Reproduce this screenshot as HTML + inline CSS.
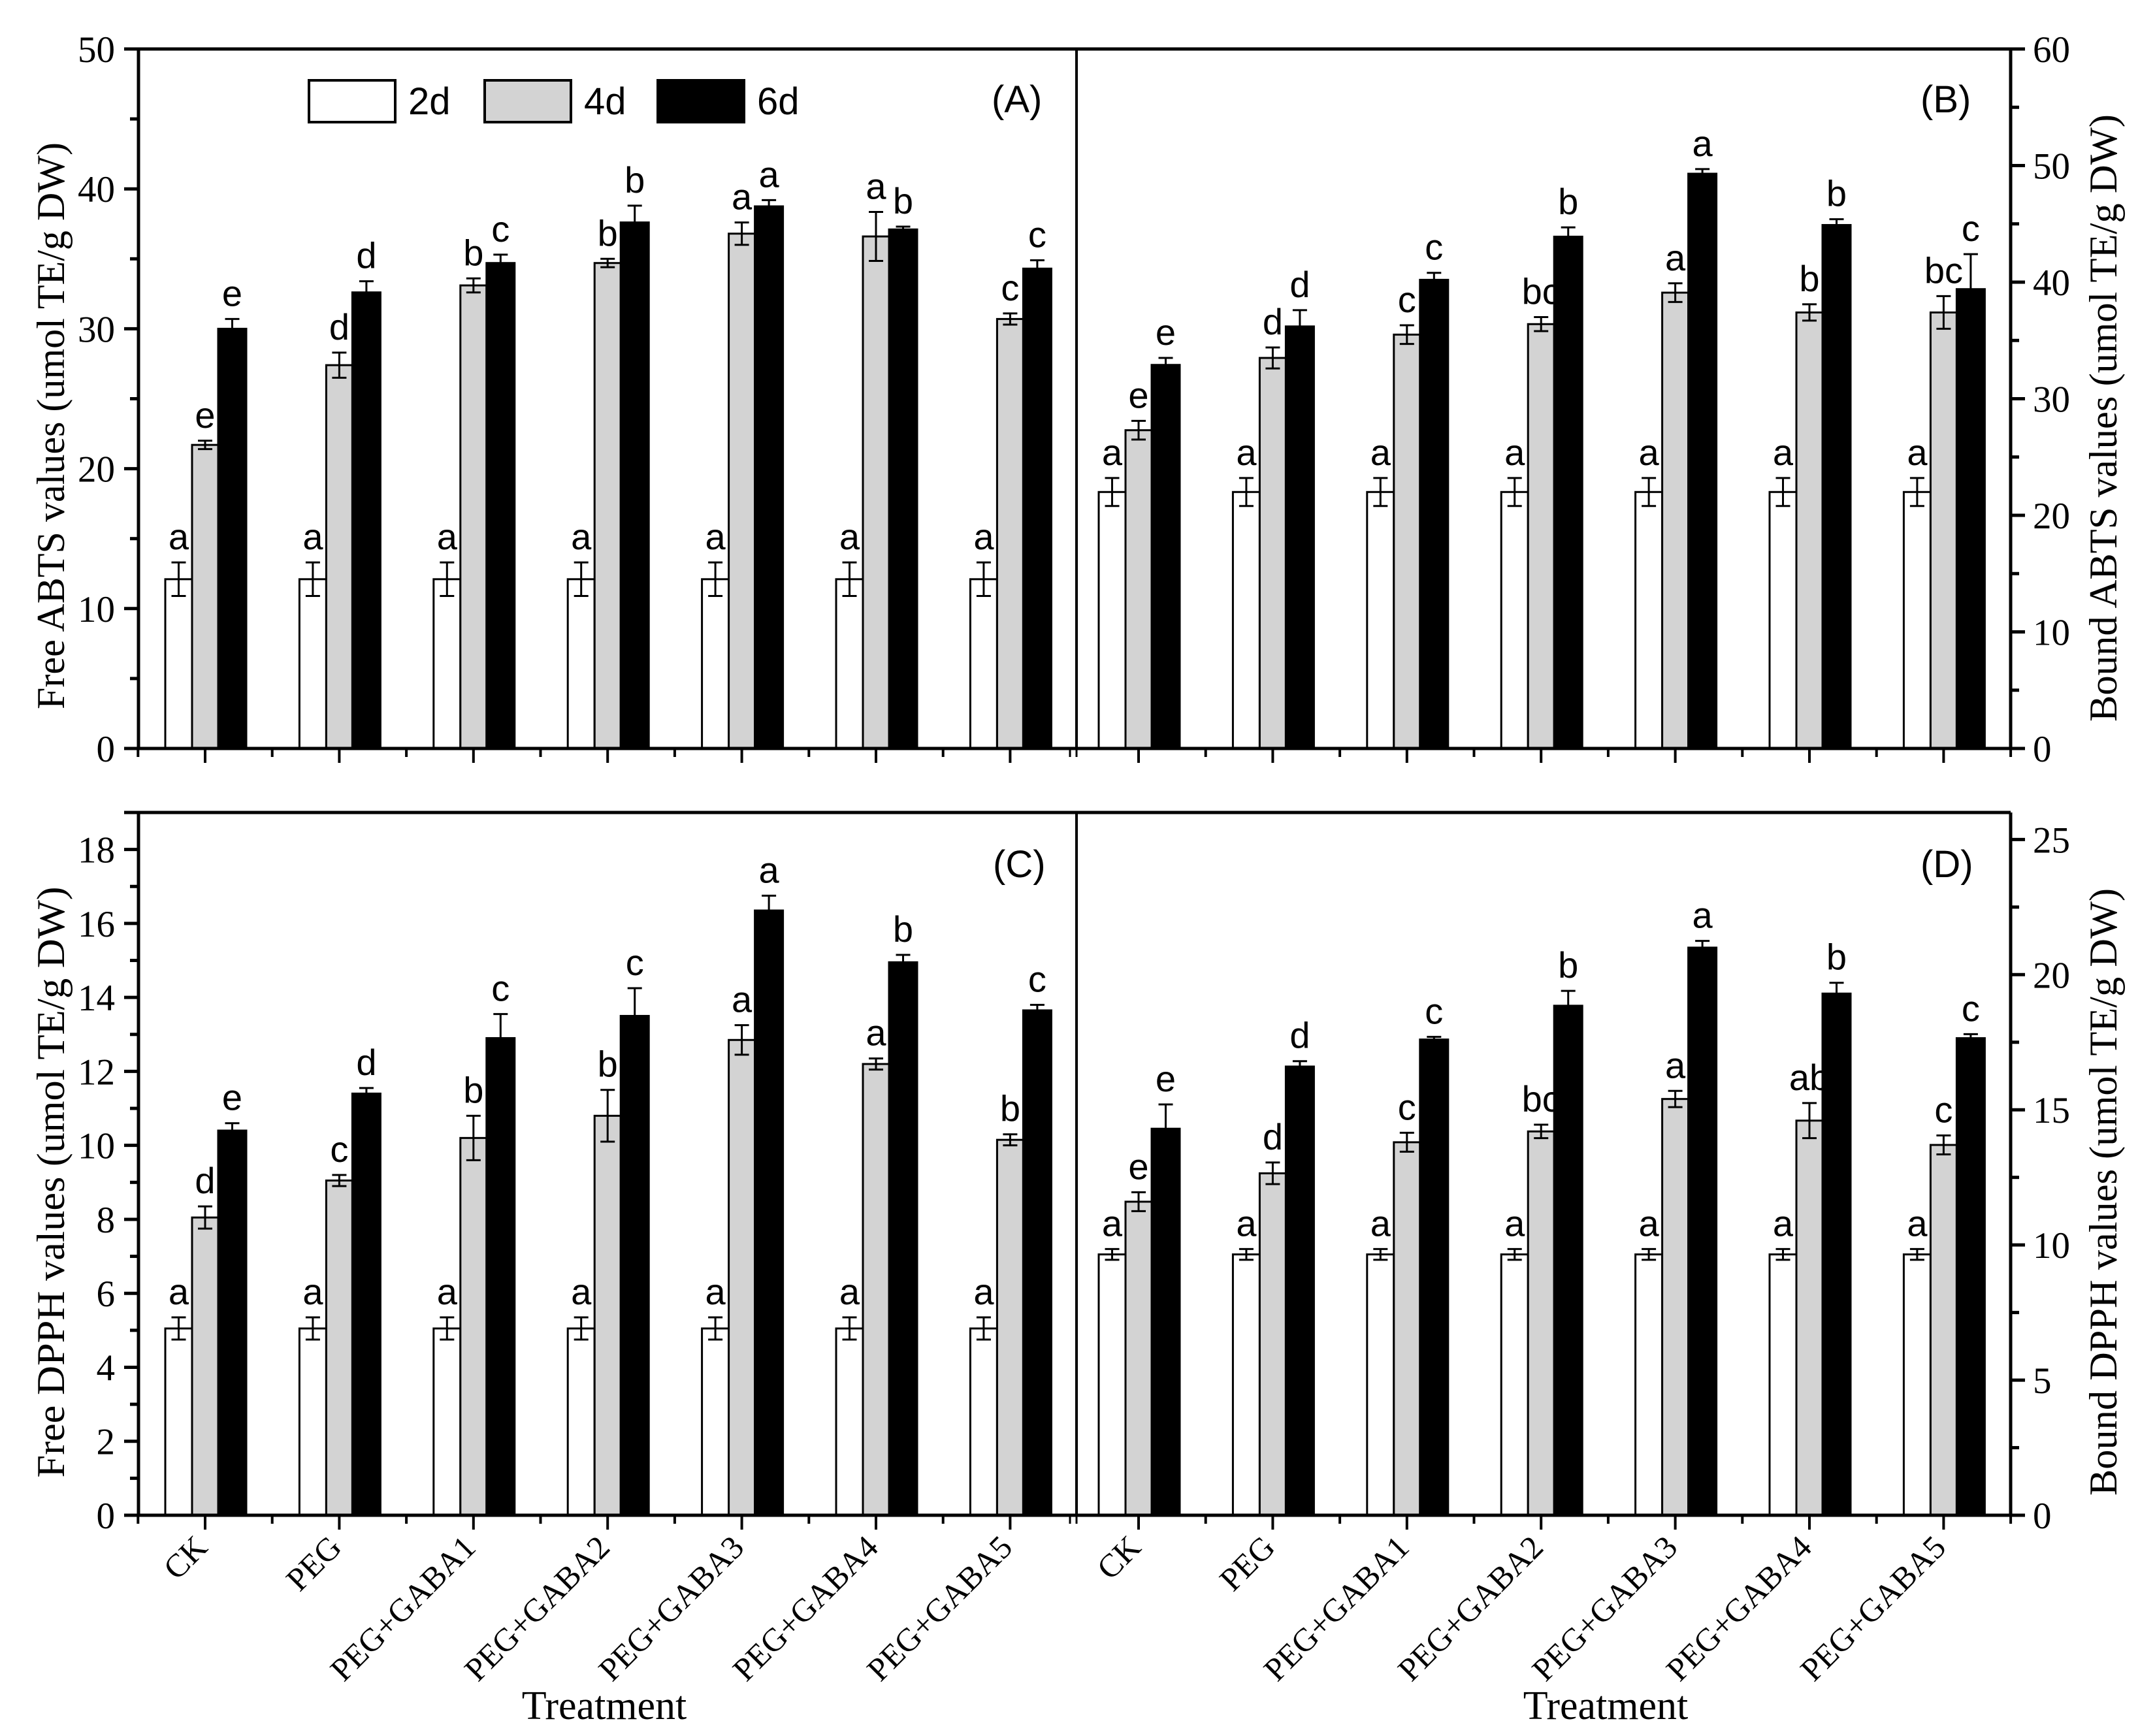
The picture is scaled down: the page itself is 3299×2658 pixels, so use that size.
<!DOCTYPE html>
<html><head><meta charset="utf-8"><style>
html,body{margin:0;padding:0;background:#fff}
svg{display:block}
.serif{font-family:"Liberation Serif",serif}
.sans{font-family:"Liberation Sans",sans-serif}
</style></head><body>
<svg id="chart" width="3299" height="2658" viewBox="0 0 3299 2658" xmlns="http://www.w3.org/2000/svg"></svg>
<script>
const categories = ["CK","PEG","PEG+GABA1","PEG+GABA2","PEG+GABA3","PEG+GABA4","PEG+GABA5"];
const seriesNames = ["2d","4d","6d"];
// Panel A: Free ABTS
const A_2d = [12.1,12.1,12.1,12.1,12.1,12.1,12.1];
const A_2d_err = [1.2,1.2,1.2,1.2,1.2,1.2,1.2];
const A_4d = [21.7,27.4,33.1,34.7,36.8,36.6,30.7];
const A_4d_err = [0.3,0.9,0.5,0.3,0.8,1.75,0.4];
const A_6d = [30.0,32.6,34.7,37.6,38.75,37.1,34.3];
const A_6d_err = [0.7,0.8,0.6,1.2,0.45,0.2,0.6];
const A_lab_2d = ["a","a","a","a","a","a","a"];
const A_lab_4d = ["e","d","b","b","a","a","c"];
const A_lab_6d = ["e","d","c","b","a","b","c"];
// Panel B: Bound ABTS
const B_2d = [22.0,22.0,22.0,22.0,22.0,22.0,22.0];
const B_2d_err = [1.2,1.2,1.2,1.2,1.2,1.2,1.2];
const B_4d = [27.3,33.5,35.5,36.4,39.1,37.4,37.4];
const B_4d_err = [0.8,0.9,0.8,0.6,0.8,0.7,1.4];
const B_6d = [32.9,36.2,40.2,43.9,49.3,44.9,39.4];
const B_6d_err = [0.6,1.4,0.6,0.8,0.4,0.5,3.0];
const B_lab_2d = ["a","a","a","a","a","a","a"];
const B_lab_4d = ["e","d","c","bc","a","b","bc"];
const B_lab_6d = ["e","d","c","b","a","b","c"];
// Panel C: Free DPPH
const C_2d = [5.05,5.05,5.05,5.05,5.05,5.05,5.05];
const C_2d_err = [0.3,0.3,0.3,0.3,0.3,0.3,0.3];
const C_4d = [8.05,9.05,10.2,10.8,12.85,12.2,10.15];
const C_4d_err = [0.3,0.15,0.6,0.7,0.4,0.15,0.15];
const C_6d = [10.4,11.4,12.9,13.5,16.35,14.95,13.65];
const C_6d_err = [0.2,0.15,0.65,0.75,0.4,0.2,0.15];
const C_lab_2d = ["a","a","a","a","a","a","a"];
const C_lab_4d = ["d","c","b","b","a","a","b"];
const C_lab_6d = ["e","d","c","c","a","b","c"];
// Panel D: Bound DPPH
const D_2d = [9.65,9.65,9.65,9.65,9.65,9.65,9.65];
const D_2d_err = [0.2,0.2,0.2,0.2,0.2,0.2,0.2];
const D_4d = [11.6,12.65,13.8,14.2,15.4,14.6,13.7];
const D_4d_err = [0.35,0.4,0.35,0.25,0.3,0.65,0.35];
const D_6d = [14.3,16.6,17.6,18.85,21.0,19.3,17.65];
const D_6d_err = [0.9,0.2,0.1,0.55,0.25,0.4,0.15];
const D_lab_2d = ["a","a","a","a","a","a","a"];
const D_lab_4d = ["e","d","c","bc","a","ab","c"];
const D_lab_6d = ["e","d","c","b","a","b","c"];
// Axis tick labels
const ticksA = [0,10,20,30,40,50];
const ticksB = [0,10,20,30,40,50,60];
const ticksC = [0,2,4,6,8,10,12,14,16,18];
const ticksD = [0,5,10,15,20,25];

const NS = "http://www.w3.org/2000/svg";
const svg = document.getElementById("chart");
function mk(tag, attrs, parent){
  const e = document.createElementNS(NS, tag);
  for (const k in attrs) e.setAttribute(k, attrs[k]);
  (parent||svg).appendChild(e);
  return e;
}
const XL = 212, XM = 1648, XR = 3078;
const SP = 205.4;
const TOP_T = 75, TOP_B = 1146, BOT_T = 1244, BOT_B = 2320;

function makeY(y0, yTop, max){ return v => y0 - (y0 - yTop) * v / max; }
const yA = makeY(TOP_B, TOP_T, 50);
const yB = makeY(TOP_B, TOP_T, 60);
const yC = makeY(BOT_B, BOT_T, 19);
const yD = makeY(BOT_B, BOT_T, 26);
const xLeft = i => 314 + SP * i;
const xRight = i => 1743 + SP * i;

const fills = ["#ffffff","#d3d3d3","#000000"];
const offs = [[-61,-20],[-20,20],[20,63]];

function drawPanel(key, xf, yf, vals, errs, labs){
  const g = mk("g", {});
  
  
  for (let s = 0; s < 3; s++){
    for (let i = 0; i < categories.length; i++){
      const c = xf(i);
      const x0 = c + offs[s][0], x1 = c + offs[s][1];
      const yv = yf(vals[s][i]);
      const y0 = yf(0);
      const r = mk("rect", {x:x0, y:yv, width:x1-x0, height:y0-yv, fill:fills[s], stroke:"#000", "stroke-width":3}, g);
      
      
      const cx = (x0 + x1) / 2;
      const eT = yf(vals[s][i] + errs[s][i]), eB = yf(vals[s][i] - errs[s][i]);
      const eg = mk("g", {stroke:"#000","stroke-width":3}, g);
      
      
      mk("line", {x1:cx, x2:cx, y1:eT, y2:eB}, eg);
      mk("line", {x1:cx-11, x2:cx+11, y1:eT, y2:eT}, eg);
      mk("line", {x1:cx-11, x2:cx+11, y1:eB, y2:eB}, eg);
      const t = mk("text", {x:cx, y:eT-20, "text-anchor":"middle", "font-size":56, class:"sans"}, g);
      t.textContent = labs[s][i];
      
      
    }
  }
}

function yAxis(xAxis, yf, ticks, minorStep, side, name){
  const g = mk("g", {});
  
  
  const dir = side === "left" ? -1 : 1;
  const max = ticks[ticks.length-1];
  for (let v = 0; v <= max + 1e-9; v += minorStep){
    const isMajor = ticks.some(t => Math.abs(t - v) < 1e-6);
    const y = yf(v);
    mk("line", {x1:xAxis, x2:xAxis + dir*(isMajor?22:13), y1:y, y2:y, stroke:"#000","stroke-width":5}, g);
  }
  ticks.forEach(v => {
    const y = yf(v);
    const t = mk("text", {x: side==="left" ? xAxis-36 : xAxis+34, y:y+20, "text-anchor": side==="left"?"end":"start", "font-size":57, class:"serif"}, g);
    t.textContent = v;
    
    
  });
}

// Frames
function frame(yTop, yBot, nm){
  const g = mk("g", {fill:"none", stroke:"#000"});
  
  
  mk("line", {x1:XL-22, x2:XR, y1:yTop, y2:yTop, "stroke-width":5}, g);
  mk("line", {x1:XL, x2:XL, y1:yTop, y2:yBot, "stroke-width":5}, g);
  mk("line", {x1:XR, x2:XR, y1:yTop, y2:yBot, "stroke-width":5}, g);
  mk("line", {x1:XM, x2:XM, y1:yTop, y2:yBot, "stroke-width":4}, g);
  mk("line", {x1:XL-22, x2:XR+22, y1:yBot, y2:yBot, "stroke-width":5}, g);
  // x ticks
  for (let i = 0; i < 7; i++){
    mk("line", {x1:xLeft(i), x2:xLeft(i), y1:yBot, y2:yBot+22, "stroke-width":4}, g);
    mk("line", {x1:xRight(i), x2:xRight(i), y1:yBot, y2:yBot+22, "stroke-width":4}, g);
    mk("line", {x1:xLeft(i)-SP/2, x2:xLeft(i)-SP/2, y1:yBot, y2:yBot+13, "stroke-width":4}, g);
    mk("line", {x1:xRight(i)+SP/2, x2:xRight(i)+SP/2, y1:yBot, y2:yBot+13, "stroke-width":4}, g);
  }
  mk("line", {x1:XM-10, x2:XM-10, y1:yBot, y2:yBot+13, "stroke-width":3}, g);
  mk("line", {x1:XM, x2:XM, y1:yBot, y2:yBot+13, "stroke-width":3}, g);
}

drawPanel("A", xLeft, yA, [A_2d,A_4d,A_6d], [A_2d_err,A_4d_err,A_6d_err], [A_lab_2d,A_lab_4d,A_lab_6d]);
drawPanel("B", xRight, yB, [B_2d,B_4d,B_6d], [B_2d_err,B_4d_err,B_6d_err], [B_lab_2d,B_lab_4d,B_lab_6d]);
drawPanel("C", xLeft, yC, [C_2d,C_4d,C_6d], [C_2d_err,C_4d_err,C_6d_err], [C_lab_2d,C_lab_4d,C_lab_6d]);
drawPanel("D", xRight, yD, [D_2d,D_4d,D_6d], [D_2d_err,D_4d_err,D_6d_err], [D_lab_2d,D_lab_4d,D_lab_6d]);
frame(TOP_T, TOP_B, "top-frame");
frame(BOT_T, BOT_B, "bottom-frame");
yAxis(XL, yA, ticksA, 5, "left", "y-axis-free-abts");
yAxis(XR, yB, ticksB, 5, "right", "y-axis-bound-abts");
yAxis(XL, yC, ticksC, 1, "left", "y-axis-free-dpph");
yAxis(XR, yD, ticksD, 2.5, "right", "y-axis-bound-dpph");

// x tick labels (bottom)
[xLeft, xRight].forEach(xf => {
  categories.forEach((c, i) => {
    const x = xf(i) + 6, y = 2372;
    const t = mk("text", {x:x, y:y, "text-anchor":"end", "font-size":50, class:"serif", transform:`rotate(-45 ${x} ${y})`});
    t.textContent = c;
    
    
  });
});

function txt(str, attrs, name){
  const t = mk("text", attrs);
  t.textContent = str;
  
  
  return t;
}
txt("Treatment", {x:925, y:2632, "text-anchor":"middle", "font-size":62, class:"serif"}, "x-axis-title-left");
txt("Treatment", {x:2458, y:2632, "text-anchor":"middle", "font-size":62, class:"serif"}, "x-axis-title-right");
txt("Free ABTS values (umol TE/g DW)", {x:0,y:0,"text-anchor":"middle","font-size":60,class:"serif",textLength:868,lengthAdjust:"spacingAndGlyphs",transform:"translate(98 652) rotate(-90)"}, "y-axis-title-free-abts");
txt("Free DPPH values (umol TE/g DW)", {x:0,y:0,"text-anchor":"middle","font-size":60,class:"serif",textLength:905,lengthAdjust:"spacingAndGlyphs",transform:"translate(98 1810) rotate(-90)"}, "y-axis-title-free-dpph");
txt("Bound ABTS values (umol TE/g DW)", {x:0,y:0,"text-anchor":"middle","font-size":60,class:"serif",textLength:930,lengthAdjust:"spacingAndGlyphs",transform:"translate(3240 640) rotate(-90)"}, "y-axis-title-bound-abts");
txt("Bound DPPH values (umol TE/g DW)", {x:0,y:0,"text-anchor":"middle","font-size":60,class:"serif",textLength:930,lengthAdjust:"spacingAndGlyphs",transform:"translate(3240 1825) rotate(-90)"}, "y-axis-title-bound-dpph");

txt("(A)", {x:1518, y:172, "font-size":58, class:"sans"}, "panel-label-a");
txt("(B)", {x:2940, y:172, "font-size":58, class:"sans"}, "panel-label-b");
txt("(C)", {x:1520, y:1343, "font-size":58, class:"sans"}, "panel-label-c");
txt("(D)", {x:2940, y:1343, "font-size":58, class:"sans"}, "panel-label-d");

// Legend
const lg = mk("g", {});


const legX = [473, 742, 1007];
seriesNames.forEach((n, s) => {
  const r = mk("rect", {x:legX[s], y:123, width:132, height:64, fill:fills[s], stroke:"#000", "stroke-width":4}, lg);
  
  
  const t = mk("text", {x:legX[s]+152, y:175, "font-size":58, class:"sans"}, lg);
  t.textContent = n;
  
  
});
</script>
</body></html>
